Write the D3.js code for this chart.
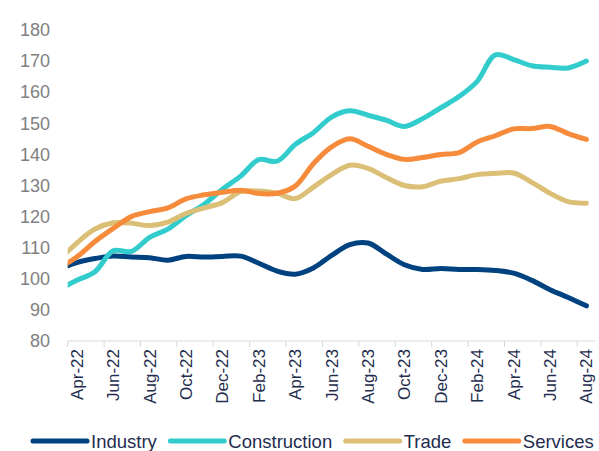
<!DOCTYPE html>
<html>
<head>
<meta charset="utf-8">
<script src="https://cdn.jsdelivr.net/npm/d3@7"></script>
<style>
  body { margin: 0; background: #fff; }
  svg { display: block; font-family: Arial, "Liberation Sans", sans-serif; }
</style>
</head>
<body>
<svg id="chart"></svg>
<script>
// Months (Mar-22 is only the partly visible start at the left edge)
const months = ["Mar-22", "Apr-22", "May-22", "Jun-22", "Jul-22", "Aug-22", "Sep-22", "Oct-22", "Nov-22", "Dec-22",
  "Jan-23", "Feb-23", "Mar-23", "Apr-23", "May-23", "Jun-23", "Jul-23", "Aug-23", "Sep-23", "Oct-23", "Nov-23", "Dec-23",
  "Jan-24", "Feb-24", "Mar-24", "Apr-24", "May-24", "Jun-24", "Jul-24", "Aug-24"];

const industry = [103, 105.2, 106.5, 107.3, 107, 106.8, 106, 107.2, 107, 107.2, 107.3, 105, 102.5, 101.5, 103.5, 107.5,
  111, 111.5, 108, 104.5, 103, 103.3, 103, 103, 102.7, 101.8, 99.5, 96.5, 94, 91.3];
const construction = [96.5, 99.5, 102.3, 109, 108.8, 113.3, 116, 120.3, 124, 128.8, 133, 138.3, 137.8, 143.2, 147, 152,
  154, 152.6, 151, 149, 151.5, 155, 158.6, 163.5, 172, 170.5, 168.5, 168, 167.8, 170];
const trade = [105.9, 111.5, 116, 118, 117.9, 117.1, 118.2, 121, 122.8, 124.5, 128, 128.2, 127.5, 125.8, 129.5, 133.5,
  136.5, 135.5, 132.6, 130, 129.6, 131.4, 132.2, 133.5, 133.9, 134, 131, 127.5, 124.8, 124.3];
const services = [103.4, 107, 112, 116.2, 120, 121.6, 122.8, 125.7, 127, 127.8, 128.5, 127.4, 127.5, 129.8, 137, 142.4,
  145, 142.6, 140, 138.4, 139, 140, 140.6, 144, 146, 148.2, 148.3, 149, 146.7, 144.8];

const seriesNames = ["Industry", "Construction", "Trade", "Services"];
const seriesColors = ["#00427f", "#33cccc", "#dbbf76", "#f78b3c"];
const yTicks = [80, 90, 100, 110, 120, 130, 140, 150, 160, 170, 180];
const xLabels = ["Apr-22", "Jun-22", "Aug-22", "Oct-22", "Dec-22", "Feb-23", "Apr-23", "Jun-23", "Aug-23",
  "Oct-23", "Dec-23", "Feb-24", "Apr-24", "Jun-24", "Aug-24"];

const width = 599, height = 451;
const plotLeft = 67.7, plotRight = 595.5, plotTop = 30, plotBottom = 341;

const svg = d3.select("#chart").attr("width", width).attr("height", height);

// one band per month, first band sits left of the plot area and is clipped
const step = (plotRight - plotLeft) / (months.length - 1);
const xScale = d3.scaleBand()
  .domain(months)
  .range([plotLeft - step, plotRight]);

const yScale = d3.scaleLinear()
  .domain([80, 180])
  .range([plotBottom, plotTop]);

svg.append("defs").append("clipPath")
  .attr("id", "plot-clip")
  .append("rect")
  .attr("x", plotLeft)
  .attr("y", 0)
  .attr("width", width - plotLeft)
  .attr("height", height);

// y axis: labels only
const yAxis = d3.axisLeft(yScale).tickValues(yTicks).tickSize(0).tickPadding(0);
const yAxisGroup = svg.append("g")
  .attr("transform", `translate(50,0)`)
  .call(yAxis);
yAxisGroup.select(".domain").remove();
yAxisGroup.selectAll("text")
  .attr("fill", "#808080")
  .attr("font-size", 18)
  .attr("font-family", "Arial, 'Liberation Sans', sans-serif");

// x axis line with ticks at every second month boundary
svg.append("line")
  .attr("x1", plotLeft).attr("x2", plotRight)
  .attr("y1", plotBottom).attr("y2", plotBottom)
  .attr("stroke", "#d9d9d9").attr("stroke-width", 1);

svg.selectAll(".x-tick")
  .data(xLabels)
  .join("line")
  .attr("class", "x-tick")
  .attr("x1", d => xScale(d)).attr("x2", d => xScale(d))
  .attr("y1", plotBottom).attr("y2", plotBottom + 6)
  .attr("stroke", "#d9d9d9").attr("stroke-width", 1);

svg.selectAll(".x-label")
  .data(xLabels)
  .join("text")
  .attr("class", "x-label")
  .attr("transform", d => `translate(${xScale(d) + xScale.bandwidth() / 2 + 6},${plotBottom + 8}) rotate(-90)`)
  .attr("text-anchor", "end")
  .attr("font-size", 17)
  .attr("fill", "#1f2d4e")
  .text(d => d);

// lines
const seriesData = [industry, construction, trade, services];
const line = d3.line()
  .x((d, i) => xScale(months[i]) + xScale.bandwidth() / 2)
  .y(d => yScale(d))
  .curve(d3.curveCatmullRom.alpha(0.5));

svg.append("g")
  .attr("clip-path", "url(#plot-clip)")
  .selectAll(".series")
  .data(seriesData)
  .join("path")
  .attr("class", "series")
  .attr("d", d => line(d))
  .attr("fill", "none")
  .attr("stroke", (d, i) => seriesColors[i])
  .attr("stroke-width", 5)
  .attr("stroke-linecap", "round")
  .attr("stroke-linejoin", "round");

// legend
const legend = svg.append("g").attr("transform", "translate(0,441)");
let lx = 33;
seriesNames.forEach((name, i) => {
  legend.append("line")
    .attr("x1", lx).attr("x2", lx + 54)
    .attr("y1", 0).attr("y2", 0)
    .attr("stroke", seriesColors[i])
    .attr("stroke-width", 5)
    .attr("stroke-linecap", "round");
  const t = legend.append("text")
    .attr("x", lx + 58)
    .attr("y", 6.5)
    .attr("font-size", 18.5)
    .attr("fill", "#1f2d4e")
    .text(name);
  lx += 58 + t.node().getComputedTextLength() + 13.5;
});
</script>
</body>
</html>
